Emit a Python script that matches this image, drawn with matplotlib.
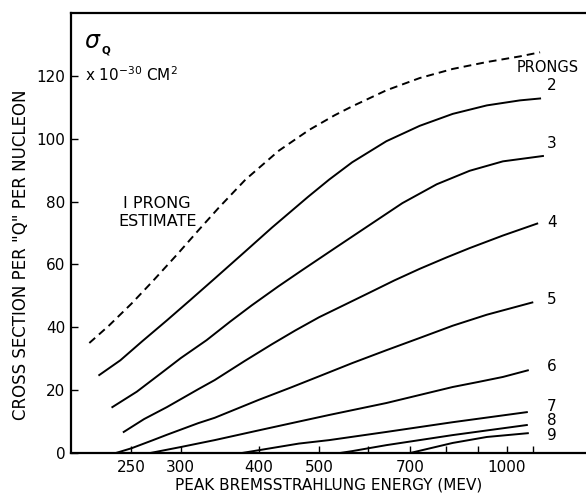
#!/usr/bin/env python3

import matplotlib
matplotlib.use('Agg')
import matplotlib.pyplot as plt
from matplotlib.ticker import FixedLocator, FixedFormatter, NullFormatter


# ---------- #
# -- DATA -- #
# ---------- #

# 1 prong estimate (dashed)
one_prong_e = [214, 230, 250, 270, 297, 320, 345, 381, 431, 482, 530, 565, 641, 725, 819, 929, 1050, 1131]
one_prong_v = [35.0, 40.5, 47.5, 54.5, 63.5, 70.8, 78.0, 87.0, 96.2, 102.8, 107.5, 110.3, 115.4, 119.3, 122.2, 124.4, 126.2, 127.5]

prong2_e = [222, 240, 260, 285, 310, 340, 380, 420, 480, 519, 565, 641, 725, 819, 929, 1050, 1131]
prong2_v = [24.8, 29.5, 35.5, 42.2, 48.5, 55.5, 64.0, 71.7, 81.5, 87.0, 92.5, 99.2, 104.1, 107.9, 110.6, 112.2, 112.8]

prong3_e = [233, 255, 279, 300, 330, 360, 390, 430, 469, 533, 602, 680, 772, 872, 986, 1143]
prong3_v = [14.6, 19.5, 25.4, 30.2, 35.9, 41.8, 47.0, 53.0, 58.1, 65.5, 72.5, 79.5, 85.5, 89.8, 92.8, 94.5]

prong4_e = [243, 262, 285, 320, 340, 380, 420, 458, 500, 550, 602, 660, 725, 800, 872, 986, 1119]
prong4_v = [6.7, 10.8, 14.6, 20.3, 23.2, 29.3, 34.6, 39.0, 43.2, 47.2, 51.0, 54.9, 58.6, 62.2, 65.2, 69.2, 73.0]

prong5_e = [236, 250, 270, 285, 320, 340, 400, 450, 500, 565, 641, 725, 819, 929, 1099]
prong5_v = [0.0, 1.5, 4.0, 5.8, 9.5, 11.2, 16.9, 20.8, 24.4, 28.6, 32.7, 36.6, 40.5, 44.0, 47.9]

prong6_e = [268, 300, 340, 400, 464, 519, 641, 819, 900, 986, 1081]
prong6_v = [0.0, 1.9, 4.1, 7.2, 10.0, 12.1, 15.9, 21.0, 22.6, 24.2, 26.3]

prong7_e = [376, 464, 519, 641, 819, 1077]
prong7_v = [0.0, 3.0, 4.1, 6.7, 9.8, 13.0]

prong8_e = [540, 565, 641, 819, 1077]
prong8_v = [0.0, 0.6, 2.5, 5.7, 8.9]

prong9_e = [700, 819, 929, 1081]
prong9_v = [0.0, 3.2, 5.1, 6.3]

solid_curves = [
    (prong2_e, prong2_v),
    (prong3_e, prong3_v),
    (prong4_e, prong4_v),
    (prong5_e, prong5_v),
    (prong6_e, prong6_v),
    (prong7_e, prong7_v),
    (prong8_e, prong8_v),
    (prong9_e, prong9_v),
]

prong_labels = ['2', '3', '4', '5', '6', '7', '8', '9']

x_major_ticks  = [250, 300, 400, 500, 700, 1000]
x_major_labels = ['250', '300', '400', '500', '700', '1000']
x_minor_ticks  = [600, 800, 900, 1100]
y_ticks        = [0, 20, 40, 60, 80, 100, 120]


# ----------- #
# -- PLOT  -- #
# ----------- #

plt.rcParams['font.family'] = ['DejaVu Sans']

fig = plt.figure(figsize=(5.86, 4.93), dpi=100, facecolor='white')
ax  = fig.add_axes([71 / 586, 40 / 493, 515 / 586, 440 / 493])

ax.plot(
    one_prong_e, one_prong_v,
    color     = 'black',
    linewidth = 1.4,
    dashes    = (4, 2.6),
)

for e, v in solid_curves:
    ax.plot(e, v, color='black', linewidth=1.4, solid_joinstyle='round')

ax.set_xscale('log')
ax.set_xlim(200, 1340)
ax.set_ylim(0, 140)

ax.xaxis.set_major_locator(FixedLocator(x_major_ticks))
ax.xaxis.set_minor_locator(FixedLocator(x_minor_ticks))
ax.xaxis.set_major_formatter(FixedFormatter(x_major_labels))
ax.xaxis.set_minor_formatter(NullFormatter())
ax.set_yticks(y_ticks)

ax.tick_params(axis='x', which='both', direction='in', length=5, width=1,
               labelsize=11, pad=5)
ax.tick_params(axis='y', which='both', direction='in', length=5, width=1,
               labelsize=11, pad=4)

ax.spines['right'].set_visible(False)
for side in ('top', 'left', 'bottom'):
    ax.spines[side].set_linewidth(1.6)

ax.set_xlabel('PEAK BREMSSTRAHLUNG ENERGY (MEV)', fontsize=11, labelpad=2)
ax.set_ylabel('CROSS SECTION PER "Q" PER NUCLEON', fontsize=12)
ax.yaxis.set_label_coords(-0.08, 0.45)

# -- annotations
ax.text(0.025, 131, r'$\sigma$', fontsize=17,
        transform=ax.get_yaxis_transform(), va='center', ha='left')
ax.text(0.059, 128.0, 'Q', fontsize=7.5, fontweight='bold',
        transform=ax.get_yaxis_transform(), va='center', ha='left')
ax.text(0.027, 120.5, r'x 10$^{-30}$ CM$^2$', fontsize=11,
        transform=ax.get_yaxis_transform(), va='center', ha='left')

ax.text(275, 79.4, 'I PRONG', fontsize=11.5, ha='center', va='center')
ax.text(275, 73.8, 'ESTIMATE', fontsize=11.5, ha='center', va='center')

ax.text(1165, 122.8, 'PRONGS', fontsize=10.5, ha='center', va='center')
label_v = [116.8, 98.4, 73.3, 48.9, 27.6, 14.9, 10.2, 5.7]
for lab, v in zip(prong_labels, label_v):
    ax.text(1180, v, lab, fontsize=11, ha='center', va='center')

plt.savefig('out.png', dpi=100, facecolor='white')
plt.close()
